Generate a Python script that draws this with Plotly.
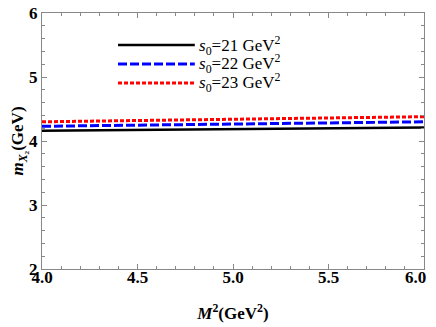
import plotly.graph_objects as go

# Borel parameter M^2 (GeV^2)
m2 = [4.0, 4.5, 5.0, 5.5, 6.0]

# mass of X2 (GeV) for the three thresholds
m_s21 = [4.16, 4.175, 4.19, 4.20, 4.21]
m_s22 = [4.23, 4.245, 4.26, 4.28, 4.30]
m_s23 = [4.30, 4.32, 4.34, 4.36, 4.38]

x_ticks = [4.0, 4.5, 5.0, 5.5, 6.0]
x_ticklabels = ["4.0", "4.5", "5.0", "5.5", "6.0"]

labels = ["<i>s</i><sub>0</sub>=21 GeV<sup>2</sup>",
          "<i>s</i><sub>0</sub>=22 GeV<sup>2</sup>",
          "<i>s</i><sub>0</sub>=23 GeV<sup>2</sup>"]

series = [m_s21, m_s22, m_s23]
colors = ["black", "#0000ff", "#ff0000"]
dashes = ["solid", "9px,3px", "4px,2px"]
widths = [2.5, 3, 3]

fig = go.Figure()
for ys, c, d, w, lab in zip(series, colors, dashes, widths, labels):
    fig.add_trace(go.Scatter(x=m2, y=ys, mode="lines", name=lab,
                             line=dict(color=c, dash=d, width=w),
                             showlegend=False))

# hand-made legend (long line samples like the original)
leg_y = [0.875, 0.801, 0.727]
for ly, c, d, w, lab in zip(leg_y, colors, dashes, widths, labels):
    fig.add_shape(type="line", xref="paper", yref="paper",
                  x0=0.199, x1=0.40, y0=ly, y1=ly,
                  line=dict(color=c, dash=d, width=w))
    fig.add_annotation(xref="paper", yref="paper", x=0.405, y=ly,
                       text=lab, showarrow=False, xanchor="left", yanchor="middle",
                       font=dict(family="Liberation Serif", size=17, color="black"))

axis_common = dict(
    showline=True, linecolor="#888888", linewidth=1, mirror="allticks",
    ticks="inside", ticklen=5, tickcolor="#888888", automargin=False,
    showgrid=False, zeroline=False, ticklabeloverflow="allow",
    tickfont=dict(family="Liberation Serif", size=17, color="black", weight="bold"),
)

# last label pulled in a bit so it stays inside the picture, like the original
shown = x_ticklabels[:-1] + [x_ticklabels[-1] + "\u2007\u2007"]

fig.update_xaxes(range=[4.0, 6.0], tickvals=x_ticks, ticktext=shown,
                 ticklabelstandoff=-7,
                 minor=dict(dtick=0.1, ticks="inside", ticklen=3, tickcolor="#888888"),
                 title=dict(text="<b><i>M</i><sup>2</sup>(GeV<sup>2</sup>)</b>",
                            font=dict(family="Liberation Serif", size=17, color="black"),
                            standoff=20),
                 **axis_common)
fig.update_yaxes(range=[2, 6], dtick=1,
                 minor=dict(dtick=0.2, ticks="inside", ticklen=3, tickcolor="#888888"),
                 title=dict(text="<b><i>m</i><sub><i>X</i>₂</sub>(GeV)</b>",
                            font=dict(family="Liberation Serif", size=17, color="black"),
                            standoff=4),
                 **axis_common)

# page body has an 8px default margin, so the figure is 8px smaller than the window
fig.update_layout(width=428, height=319, plot_bgcolor="white", paper_bgcolor="white",
                  margin=dict(l=34, r=12, t=5, b=58))

fig.write_html("out.html")
